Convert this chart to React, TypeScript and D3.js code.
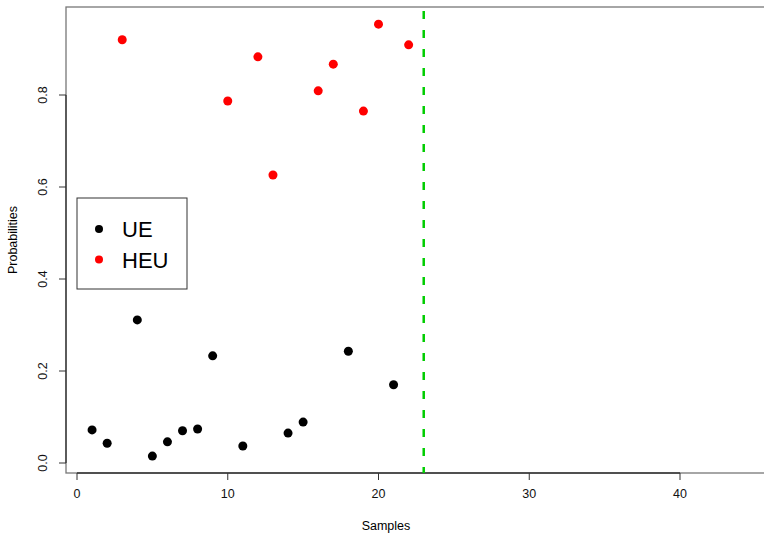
import * as d3 from 'd3';
import { useEffect, useRef } from 'react';

const ueSamples = [1, 2, 4, 5, 6, 7, 8, 9, 11, 14, 15, 18, 21];
const ueProbs = [0.072, 0.043, 0.311, 0.015, 0.046, 0.07, 0.074, 0.233, 0.037, 0.065, 0.089, 0.243, 0.17];
const heuSamples = [3, 10, 12, 13, 16, 17, 19, 20, 22];
const heuProbs = [0.92, 0.787, 0.883, 0.626, 0.809, 0.867, 0.765, 0.954, 0.909];
const xTicks = [0, 10, 20, 30, 40];
const yTicks = [0, 0.2, 0.4, 0.6, 0.8];
const cutoff = 23;
const legendLabels = ['UE', 'HEU'];
const legendColors = ['black', 'red'];

export default function App() {
  const ref = useRef<SVGSVGElement>(null);

  useEffect(() => {
    document.body.style.margin = '0';
    const width = 764;
    const height = 534;
    const svg = d3.select(ref.current);
    svg.selectAll('*').remove();
    svg.attr('width', width).attr('height', height);

    const font = '"Liberation Sans", Arial, sans-serif';
    const x = d3.scaleLinear().domain([0, 40]).range([77, 680]);
    const y = d3.scaleLinear().domain([0, 0.8]).range([463, 95]);

    const box = { left: 66, top: 7, bottom: 473, right: 780 };

    // plot box
    svg.append('rect')
      .attr('x', box.left).attr('y', box.top)
      .attr('width', box.right - box.left).attr('height', box.bottom - box.top)
      .attr('fill', 'none').attr('stroke', '#777').attr('stroke-width', 1.3);

    // x axis
    const gx = svg.append('g');
    gx.append('line')
      .attr('x1', x(0)).attr('x2', x(40)).attr('y1', box.bottom).attr('y2', box.bottom)
      .attr('stroke', '#333').attr('stroke-width', 1.3);
    gx.selectAll('line.tick').data(xTicks).enter().append('line')
      .attr('x1', d => x(d)).attr('x2', d => x(d))
      .attr('y1', box.bottom).attr('y2', box.bottom + 7)
      .attr('stroke', '#333');
    gx.selectAll('text').data(xTicks).enter().append('text')
      .attr('x', d => x(d)).attr('y', 498)
      .attr('text-anchor', 'middle').attr('font-family', font).attr('font-size', 12.5)
      .attr('fill', '#111')
      .text(d => String(d));

    // y axis
    const gy = svg.append('g');
    gy.append('line')
      .attr('x1', box.left).attr('x2', box.left).attr('y1', y(0)).attr('y2', y(0.8))
      .attr('stroke', '#333').attr('stroke-width', 1.3);
    gy.selectAll('line.tick').data(yTicks).enter().append('line')
      .attr('x1', box.left - 7).attr('x2', box.left)
      .attr('y1', d => y(d)).attr('y2', d => y(d))
      .attr('stroke', '#333');
    gy.selectAll('text').data(yTicks).enter().append('text')
      .attr('transform', d => `translate(47,${y(d)}) rotate(-90)`)
      .attr('text-anchor', 'middle').attr('font-family', font).attr('font-size', 12.5)
      .attr('fill', '#111')
      .text(d => d.toFixed(1));

    // axis titles
    svg.append('text')
      .attr('x', 386).attr('y', 530)
      .attr('text-anchor', 'middle').attr('font-family', font).attr('font-size', 12.5)
      .text('Samples');
    svg.append('text')
      .attr('transform', 'translate(17,240) rotate(-90)')
      .attr('text-anchor', 'middle').attr('font-family', font).attr('font-size', 12.5)
      .text('Probabilities');

    // cutoff line
    svg.append('line')
      .attr('x1', x(cutoff)).attr('x2', x(cutoff))
      .attr('y1', 11).attr('y2', box.bottom)
      .attr('stroke', '#00CD00').attr('stroke-width', 2.5)
      .attr('stroke-dasharray', '8,11');

    // points
    svg.append('g').selectAll('circle').data(ueSamples).enter().append('circle')
      .attr('cx', d => x(d)).attr('cy', (d, i) => y(ueProbs[i]))
      .attr('r', 4.5).attr('fill', 'black');
    svg.append('g').selectAll('circle').data(heuSamples).enter().append('circle')
      .attr('cx', d => x(d)).attr('cy', (d, i) => y(heuProbs[i]))
      .attr('r', 4.5).attr('fill', 'red');

    // legend
    const lg = svg.append('g');
    lg.append('rect')
      .attr('x', 77).attr('y', 198).attr('width', 110).attr('height', 91)
      .attr('fill', 'white').attr('stroke', '#333').attr('stroke-width', 1);
    legendLabels.forEach((lab, i) => {
      lg.append('circle')
        .attr('cx', 99).attr('cy', 229 + i * 30.5)
        .attr('r', 4).attr('fill', legendColors[i]);
      lg.append('text')
        .attr('x', 122).attr('y', 229 + i * 30.5 + 8)
        .attr('font-family', font).attr('font-size', 22)
        .text(lab);
    });
  }, []);

  return <svg ref={ref} style={{ display: 'block' }}></svg>;
}
